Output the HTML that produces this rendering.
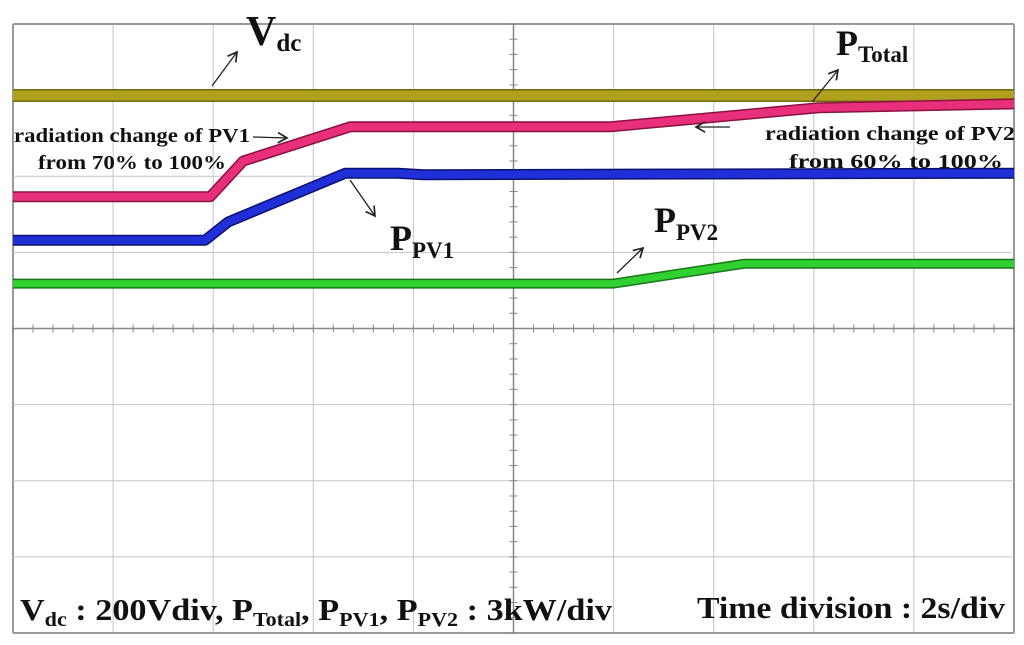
<!DOCTYPE html>
<html><head><meta charset="utf-8"><style>
html,body{margin:0;padding:0;background:#fff;width:1024px;height:645px;overflow:hidden}
svg{position:absolute;left:0;top:0}
text{font-family:"Liberation Serif",serif;font-weight:bold;fill:#111}
</style></head><body>
<svg id="chart" width="1024" height="645">
<defs><marker id="ah" markerWidth="10" markerHeight="10" refX="8" refY="5" orient="auto"><path d="M1,1 L8,5 L1,9" fill="none" stroke="#222" stroke-width="1.3"/></marker></defs>
<g id="grid"></g>
<g id="traces"></g>
<g>
<text x="246" y="45" font-size="42">V<tspan font-size="25" dy="6">dc</tspan></text>
<line x1="212" y1="86" x2="237" y2="52" stroke="#222" stroke-width="1.3" marker-end="url(#ah)"/>
<text x="836" y="55" font-size="36">P<tspan font-size="23" dy="7">Total</tspan></text>
<line x1="812" y1="102" x2="838" y2="70" stroke="#222" stroke-width="1.3" marker-end="url(#ah)"/>
<text x="14" y="142" font-size="20" textLength="236" lengthAdjust="spacingAndGlyphs">radiation change of PV1</text>
<text x="38" y="169" font-size="20" textLength="188" lengthAdjust="spacingAndGlyphs">from 70% to 100%</text>
<line x1="253" y1="137" x2="287" y2="138" stroke="#222" stroke-width="1.3" marker-end="url(#ah)"/>
<text x="765" y="140" font-size="20" textLength="250" lengthAdjust="spacingAndGlyphs">radiation change of PV2</text>
<text x="789" y="168" font-size="20" textLength="214" lengthAdjust="spacingAndGlyphs">from 60% to 100%</text>
<line x1="730" y1="127" x2="696" y2="127" stroke="#222" stroke-width="1.3" marker-end="url(#ah)"/>
<text x="390" y="250" font-size="36">P<tspan font-size="23" dy="8">PV1</tspan></text>
<line x1="350" y1="180" x2="375" y2="216" stroke="#222" stroke-width="1.3" marker-end="url(#ah)"/>
<text x="654" y="232" font-size="36">P<tspan font-size="23" dy="8">PV2</tspan></text>
<line x1="617" y1="273" x2="643" y2="248" stroke="#222" stroke-width="1.3" marker-end="url(#ah)"/>
<text x="20" y="620" font-size="31" textLength="592" lengthAdjust="spacingAndGlyphs">V<tspan font-size="20" dy="6">dc</tspan><tspan dy="-6"> : 200Vdiv, P</tspan><tspan font-size="20" dy="6">Total</tspan><tspan dy="-6">, P</tspan><tspan font-size="20" dy="6">PV1</tspan><tspan dy="-6">, P</tspan><tspan font-size="20" dy="6">PV2</tspan><tspan dy="-6"> : 3kW/div</tspan></text>
<text x="697" y="618" font-size="31" textLength="308" lengthAdjust="spacingAndGlyphs">Time division : 2s/div</text>
</g>
</svg>
<script>
// time in seconds (0-20), values in divisions from bottom (0-8)
const vdcT=[0,20], vdcV=[7.06,7.06];
const totalT=[0,3.94,4.6,6.74,11.94,16.1,20], totalV=[5.73,5.73,6.2,6.65,6.65,6.9,6.95];
const pv1T=[0,3.84,4.3,6.64,7.7,8.2,20], pv1V=[5.16,5.16,5.4,6.04,6.04,6.02,6.04];
const pv2T=[0,12.0,14.6,20], pv2V=[4.59,4.59,4.85,4.85];
const L=13,R=1014,T=24,B=633;
const xs=t=>L+(R-L)*t/20, ys=v=>B-(B-T)*v/8;
const NS='http://www.w3.org/2000/svg';
const grid=document.getElementById('grid'), tr=document.getElementById('traces');
function ln(p,x1,y1,x2,y2,c,w,da){const e=document.createElementNS(NS,'line');e.setAttribute('x1',x1);e.setAttribute('y1',y1);e.setAttribute('x2',x2);e.setAttribute('y2',y2);e.setAttribute('stroke',c);e.setAttribute('stroke-width',w);if(da)e.setAttribute('stroke-dasharray',da);p.appendChild(e);return e;}
for(let i=0;i<=10;i++){const e=ln(grid,xs(i*2),T,xs(i*2),B,i==0||i==10?'#999':'#c4c4c4',i==0||i==10?2:1);

}
for(let j=0;j<=8;j++){const e=ln(grid,L,ys(j),R,ys(j),j==0||j==8?'#999':'#c4c4c4',j==0||j==8?2:1);

}
const cx=ln(grid,xs(10),T,xs(10),B,'#888',1.5);
const cy=ln(grid,L,ys(4),R,ys(4),'#888',1.5);
for(let k=0;k<=50;k++){ln(grid,xs(k*0.4),ys(4)-4,xs(k*0.4),ys(4)+4,'#888',1);}
for(let k=0;k<=40;k++){ln(grid,xs(10)-4,ys(k*0.2),xs(10)+4,ys(k*0.2),'#888',1);}
function trace(tt,vv,col,dark,w,name){
  const d=tt.map((t,i)=>(i?'L':'M')+xs(t)+','+ys(vv[i])).join(' ');
  const p=document.createElementNS(NS,'path');p.setAttribute('d',d);p.setAttribute('fill','none');p.setAttribute('stroke',dark);p.setAttribute('stroke-width',w+2);p.setAttribute('stroke-linejoin','round');
  
  
  tr.appendChild(p);
  const q=p.cloneNode();q.setAttribute('stroke',col);q.setAttribute('stroke-width',w-1);
  
  
  tr.appendChild(q);
}
trace(vdcT,vdcV,'#b0a020','#6f6a10',11,'vdc-trace');
trace(totalT,totalV,'#e8307a','#8a1040',9,'ptotal-trace');
trace(pv1T,pv1V,'#2030d8','#0a1070',9,'ppv1-trace');
trace(pv2T,pv2V,'#30d030','#187818',8,'ppv2-trace');
</script>
</body></html>
